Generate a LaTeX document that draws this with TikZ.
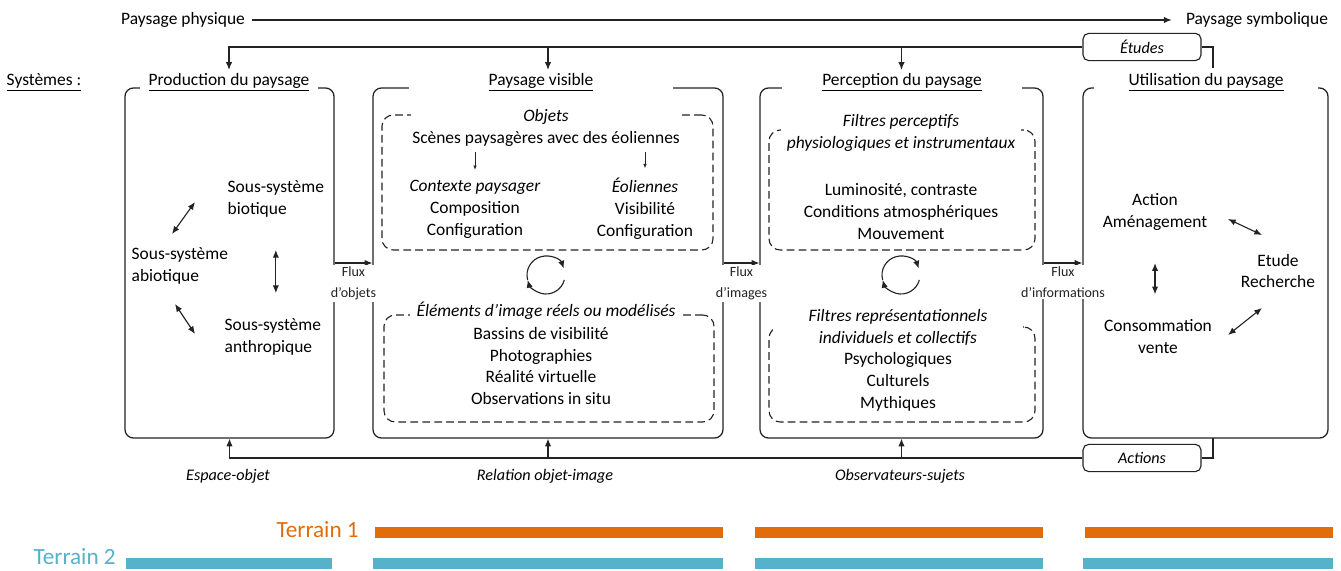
\documentclass[tikz,border=0pt]{standalone}
\usepackage{fontspec}
\setmainfont{Carlito}
\usetikzlibrary{arrows.meta, positioning, fit, calc}
\definecolor{terrainorange}{RGB}{227,108,10}
\definecolor{terrainblue}{RGB}{86,177,203}
\definecolor{linegray}{RGB}{35,35,35}
\tikzset{
  base/.style     = {font=\fontsize{12.4}{15.6}\selectfont, align=center, inner sep=1pt},
  sysbox/.style   = {draw=linegray, line width=0.9pt, rounded corners=6pt, inner sep=0pt},
  subbox/.style   = {draw=linegray, line width=0.8pt, dash pattern=on 5.5pt off 3pt,
                     rounded corners=8pt, inner sep=0pt},
  systitle/.style = {base, fill=white, inner ysep=2pt},
  subtitle/.style = {base, fill=white, font=\fontsize{12.4}{15.6}\selectfont\itshape},
  item/.style     = {base},
  flux/.style     = {base, fill=white, font=\fontsize{10}{14.5}\selectfont, inner sep=1.5pt},
  tag/.style      = {base, draw=linegray, line width=0.8pt, rounded corners=4pt, fill=white,
                     font=\fontsize{11.5}{13}\selectfont\itshape,
                     minimum width=2.95cm, minimum height=0.68cm},
  caption/.style  = {base, font=\fontsize{11.5}{13}\selectfont\itshape},
  terrain/.style  = {base, font=\fontsize{16.5}{18}\selectfont, anchor=east, inner sep=0pt},
  arr/.style      = {-{Latex[length=5.5pt,width=4.5pt]}, line width=0.8pt, color=linegray},
  sarr/.style     = {-{Latex[length=3pt,width=2.5pt]}, line width=0.5pt, color=linegray},
  darr/.style     = {{Latex[length=5.5pt,width=4.5pt]}-{Latex[length=5.5pt,width=4.5pt]},
                     line width=0.8pt, color=linegray},
  pics/cycle/.style = {code={
    \draw[arr] (-195:19) arc[start angle=-195, end angle=-20, radius=19];
    \draw[arr] (15:19) arc[start angle=15, end angle=165, radius=19];
  }},
}

\begin{document}
\begin{tikzpicture}[x=0.025cm, y=-0.025cm]
  \useasboundingbox (0,0) rectangle (1341,571);

  % physique -> symbolique
  \node[base] (physique) at (183,20) {Paysage physique};
  \node[base] (symbolique) at (1257,20) {Paysage symbolique};
  \draw[arr, shorten <=4pt, shorten >=9pt] (physique) -- (symbolique);

  \node[base] (systemes) at (44,82) {\underline{Systèmes :}};

  % the four systems
  \node[sysbox, fit={(125,88) (334,438)}] (prod) {};
  \node[sysbox, fit={(373,88) (723,438)}] (vis) {};
  \node[sysbox, fit={(760,88) (1043,438)}] (perc) {};
  \node[sysbox, fit={(1083,88) (1328,438)}] (util) {};

  \node[systitle, minimum width=4.45cm] (prodtitle) at (229,82) {\underline{Production du paysage}};
  \node[systitle, minimum width=6.6cm] (vistitle) at (541,82) {\underline{Paysage visible}};
  \node[systitle, minimum width=6.0cm] (perctitle) at (902,82) {\underline{Perception du paysage}};
  \node[systitle, minimum width=5.6cm] (utiltitle) at (1206,82) {\underline{Utilisation du paysage}};

  % production du paysage
  \node[item, anchor=west, align=left] (abio) at (130,266) {Sous-système\\abiotique};
  \node[item, anchor=west, align=left] (bio) at (226,199) {Sous-système\\biotique};
  \node[item, anchor=west, align=left] (anth) at (223,337) {Sous-système\\anthropique};
  \coordinate (abioup) at (172,234);
  \coordinate (bioleft) at (195,202);
  \coordinate (abiodown) at (175,304);
  \coordinate (anthleft) at (195,334);
  \draw[darr] (abioup) -- (bioleft);
  \draw[darr] (abiodown) -- (anthleft);
  \draw[darr, shorten <=22pt, shorten >=17pt] (bio.south) -- (bio.south |- anth.north);

  % paysage visible
  \node[subbox, fit={(382,115) (713,250)}] (objets) {};
  \node[base, fill=white, minimum width=6.7cm] (objetstitle) at (546,128)
    {\textit{Objets}\\Scènes paysagères avec des éoliennes};
  \node[item] (contexte) at (475,209) {\textit{Contexte paysager}\\Composition\\Configuration};
  \node[item] (eoliennes) at (645,209) {\textit{Éoliennes}\\Visibilité\\Configuration};
  \draw[sarr, shorten <=3pt, shorten >=6pt] (contexte.north |- objetstitle.south) -- (contexte.north);
  \draw[sarr, shorten <=3pt, shorten >=6pt] (eoliennes.north |- objetstitle.south) -- (eoliennes.north);
  \pic at (546,275) {cycle};
  \node[subbox, fit={(384,315) (714,422)}] (images) {};
  \node[subtitle, minimum width=6.8cm] (imagestitle) at (546,311) {Éléments d'image réels ou modélisés};
  \node[item] (imageslist) at (541,366)
    {Bassins de visibilité\\Photographies\\Réalité virtuelle\\Observations in situ};

  % perception du paysage
  \node[subbox, fit={(769,130) (1035,250)}] (physio) {};
  \node[subtitle, minimum width=6cm] (physiotitle) at (901,133)
    {Filtres perceptifs\\physiologiques et instrumentaux};
  \node[item] (physiolist) at (901,212)
    {Luminosité, contraste\\Conditions atmosphériques\\Mouvement};
  \pic at (901,275) {cycle};
  \node[subbox, fit={(769,327) (1035,422)}] (repr) {};
  \node[subtitle, minimum width=6.25cm] (reprtitle) at (898,327)
    {Filtres représentationnels\\individuels et collectifs};
  \node[item] (reprlist) at (898,382) {Psychologiques\\Culturels\\Mythiques};

  % utilisation du paysage
  \node[item] (action) at (1155,212) {Action\\Aménagement};
  \node[item] (etude) at (1278,271) {Etude\\Recherche};
  \node[item] (conso) at (1158,337) {Consommation\\vente};
  \coordinate (actionright) at (1228,219);
  \coordinate (etudeup) at (1262,235);
  \coordinate (consoright) at (1228,335);
  \coordinate (etudedown) at (1262,308);
  \draw[darr] (actionright) -- (etudeup);
  \draw[darr] (consoright) -- (etudedown);
  \draw[darr, shorten <=22pt, shorten >=17pt] (action.south) -- (action.south |- conso.north);

  % flux
  \draw[arr] (prod) -- node[flux, below=1pt] (fluxobjets) {Flux\\d'objets} (vis);
  \draw[arr] (vis) -- node[flux, below=1pt] (fluximages) {Flux\\d'images} (perc);
  \draw[arr] (perc) -- node[flux, below=1pt] (fluxinfos) {Flux\\d'informations} (util);

  % retroactions
  \node[tag] (etudes) at (1142,47) {Études};
  \node[tag] (actions) at (1142,458) {Actions};
  \coordinate (utiltop) at (1213,68);
  \coordinate (utilbase) at (1213,438);
  \draw[line width=0.8pt, linegray] (utiltop) |- (etudes.east);
  \draw[line width=0.8pt, linegray] (utilbase) |- (actions.east);
  \draw[arr] (etudes.west) -| (prodtitle.north);
  \draw[arr] (vis.north |- etudes.west) -- (vis.north |- vistitle.north);
  \draw[arr] (perc.north |- etudes.west) -- (perc.north |- perctitle.north);
  \draw[arr] (actions.west) -| (prod.south);
  \draw[arr] (vis.south |- actions.west) -- (vis.south);
  \draw[arr] (perc.south |- actions.west) -- (perc.south);

  \node[caption] (espace) at (228,476) {Espace-objet};
  \node[caption] (relation) at (545,476) {Relation objet-image};
  \node[caption] (observateurs) at (900,476) {Observateurs-sujets};

  % terrains
  \node[terrain, text=terrainorange] (terrain1) at (359,530) {Terrain 1};
  \node[terrain, text=terrainblue] (terrain2) at (116,557) {Terrain 2};
  \foreach \a/\b in {375/723, 755/1043, 1085/1333}
    \fill[terrainorange] (\a,527) rectangle (\b,538);
  \foreach \a/\b in {126/332, 373/723, 755/1043, 1083/1333}
    \fill[terrainblue] (\a,558) rectangle (\b,569);
\end{tikzpicture}
\end{document}
